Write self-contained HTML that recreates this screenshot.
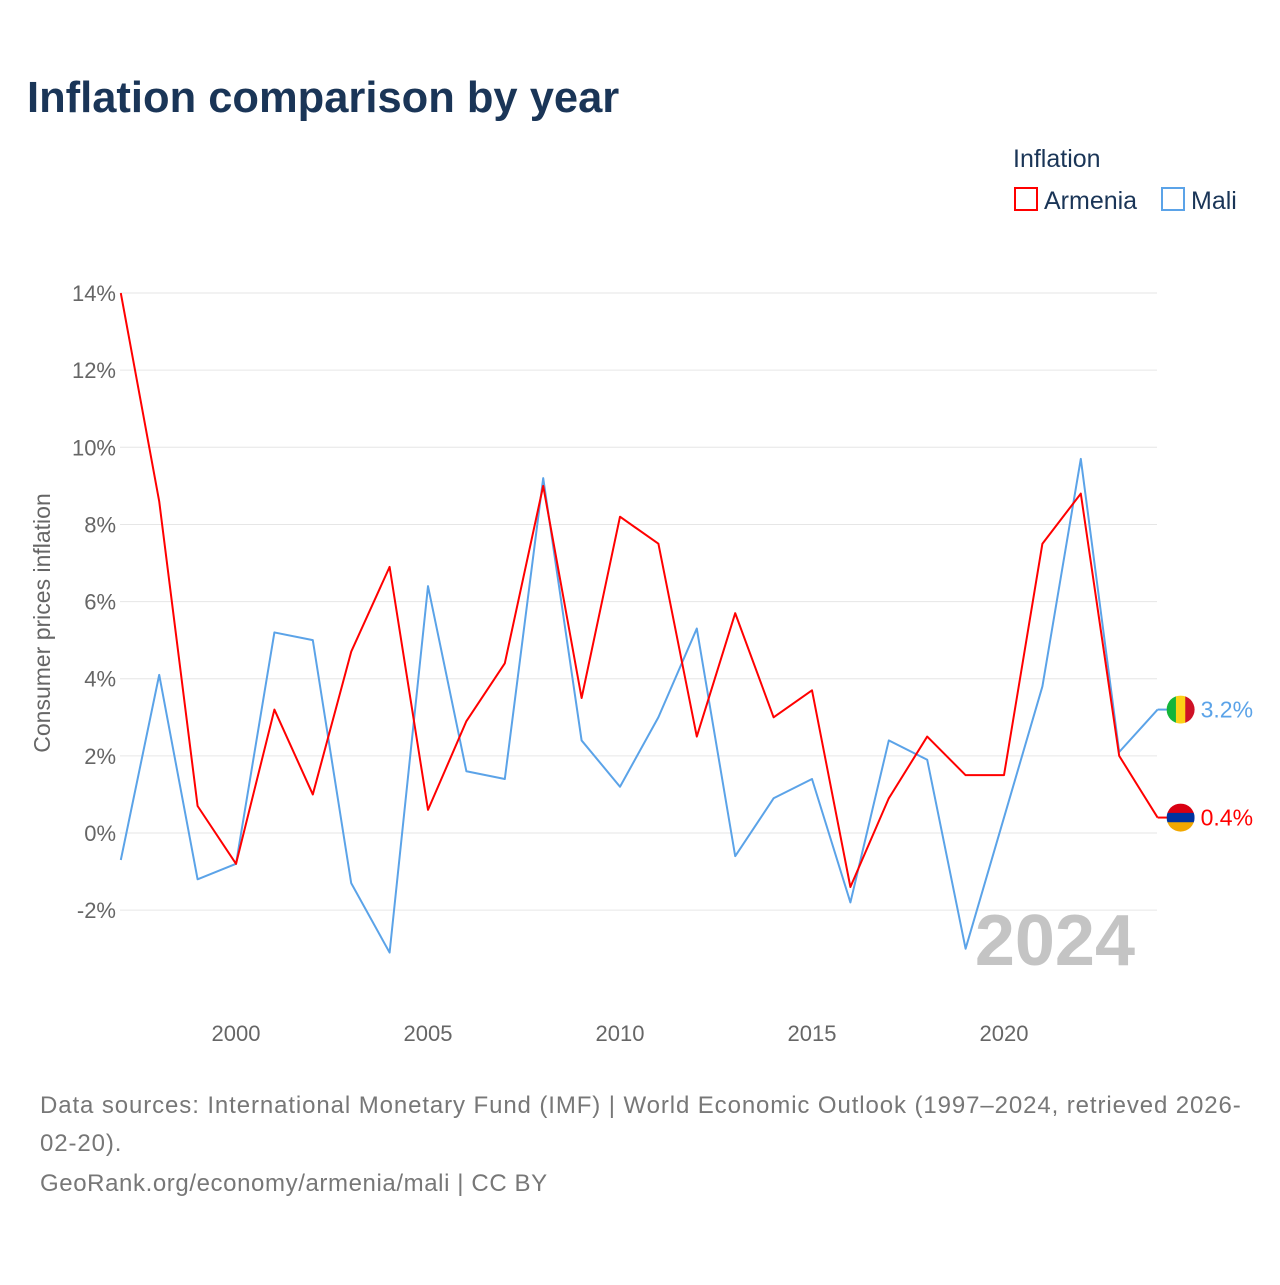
<!DOCTYPE html>
<html><head><meta charset="utf-8"><style>
body{margin:0;background:#fff;font-family:"Liberation Sans",sans-serif;}
</style></head><body>
<svg id="chart" width="1280" height="1280" xmlns="http://www.w3.org/2000/svg" style="font-family:'Liberation Sans',sans-serif">
<text x="27" y="112" font-size="43.5" font-weight="bold" fill="#1a3557">Inflation comparison by year</text>
<text x="1013" y="167" font-size="25" fill="#1a3557">Inflation</text>
<g><rect x="1015" y="188" width="22" height="22" fill="none" stroke="#ff0000" stroke-width="2"/><text x="1044" y="209" font-size="25" fill="#1a3557">Armenia</text></g>
<g><rect x="1162" y="188" width="22" height="22" fill="none" stroke="#5ba3e8" stroke-width="2"/><text x="1191" y="209" font-size="25" fill="#1a3557">Mali</text></g>
<text transform="translate(50,623) rotate(-90)" text-anchor="middle" font-size="23" fill="#666">Consumer prices inflation</text>
<g id="grid"></g><g id="yticks"></g><g id="xticks"></g>
<text x="1135" y="965" text-anchor="end" font-size="72" font-weight="bold" fill="#c4c4c4">2024</text>
<g id="series"></g>
<text x="40" y="1113" font-size="24" letter-spacing="0.9" fill="#777">Data sources: International Monetary Fund (IMF) | World Economic Outlook (1997–2024, retrieved 2026-</text>
<text x="40" y="1151" font-size="24" letter-spacing="0.9" fill="#777">02-20).</text>
<text x="40" y="1191" font-size="24" letter-spacing="0.6" fill="#777">GeoRank.org/economy/armenia/mali | CC BY</text>
</svg>
<script>
const years=[1997,1998,1999,2000,2001,2002,2003,2004,2005,2006,2007,2008,2009,2010,2011,2012,2013,2014,2015,2016,2017,2018,2019,2020,2021,2022,2023,2024];
const armenia=[14.0,8.6,0.7,-0.8,3.2,1.0,4.7,6.9,0.6,2.9,4.4,9.0,3.5,8.2,7.5,2.5,5.7,3.0,3.7,-1.4,0.9,2.5,1.5,1.5,7.5,8.8,2.0,0.4];
const mali=[-0.7,4.1,-1.2,-0.8,5.2,5.0,-1.3,-3.1,6.4,1.6,1.4,9.2,2.4,1.2,3.0,5.3,-0.6,0.9,1.4,-1.8,2.4,1.9,-3.0,0.4,3.8,9.7,2.1,3.2];
const yTicks=[-2,0,2,4,6,8,10,12,14];
const xTicks=[2000,2005,2010,2015,2020];
const NS="http://www.w3.org/2000/svg";
const x=v=>120.8+(v-1997)*38.4;
const y=v=>833-v*38.57;
function mk(t,a,p){const e=document.createElementNS(NS,t);for(const k in a)e.setAttribute(k,a[k]);p.appendChild(e);return e;}
const grid=document.getElementById('grid'),yt=document.getElementById('yticks'),xt=document.getElementById('xticks'),s=document.getElementById('series');
yTicks.forEach(t=>{
 const l=mk('line',{x1:120,x2:1157,y1:y(t),y2:y(t),stroke:'#e6e6e6','stroke-width':1},grid);
 
 
 const tx=mk('text',{x:116,y:y(t)+8,'text-anchor':'end','font-size':22,fill:'#666'},yt);
 tx.textContent=t+'%';
 
 
});
xTicks.forEach(t=>{
 const tx=mk('text',{x:x(t),y:1041,'text-anchor':'middle','font-size':22,fill:'#666'},xt);
 tx.textContent=t;
 
 
});
function series(vals,color,name,flag){
 const p=mk('polyline',{points:vals.map((v,i)=>x(years[i])+','+y(v)).join(' '),fill:'none',stroke:color,'stroke-width':2,'stroke-linejoin':'round'},s);
 
 
 const last=vals[vals.length-1],lx=x(years[years.length-1]),ly=y(last);
 mk('line',{x1:lx,x2:lx+10,y1:ly,y2:ly,stroke:color,'stroke-width':2},s);
 const g=mk('g',{},s);
 
 
 const cx=lx+23,r=14;
 mk('clipPath',{id:'c'+name},g).appendChild(document.createElementNS(NS,'circle')).setAttribute('r',r);
 document.querySelector('#c'+name+' circle').setAttribute('cx',cx);
 document.querySelector('#c'+name+' circle').setAttribute('cy',ly);
 const gg=mk('g',{'clip-path':'url(#c'+name+')'},g);
 flag.forEach((c,i)=>{
  if(flag.vertical) mk('rect',{x:cx-r+i*2*r/3,y:ly-r,width:2*r/3+0.5,height:2*r,fill:c},gg);
  else mk('rect',{x:cx-r,y:ly-r+i*2*r/3,width:2*r,height:2*r/3+0.5,fill:c},gg);
 });
 const t=mk('text',{x:lx+43,y:ly+8,'font-size':23,fill:color},s);
 t.textContent=last.toFixed(1)+'%';
 
 
}
const am=['#d90012','#0033a0','#f2a800'];
const ml=['#14b53a','#fcd116','#ce1126'];ml.vertical=true;
series(mali,'#5ba3e8','mali',ml);
series(armenia,'#ff0000','armenia',am);
</script>
</body></html>
